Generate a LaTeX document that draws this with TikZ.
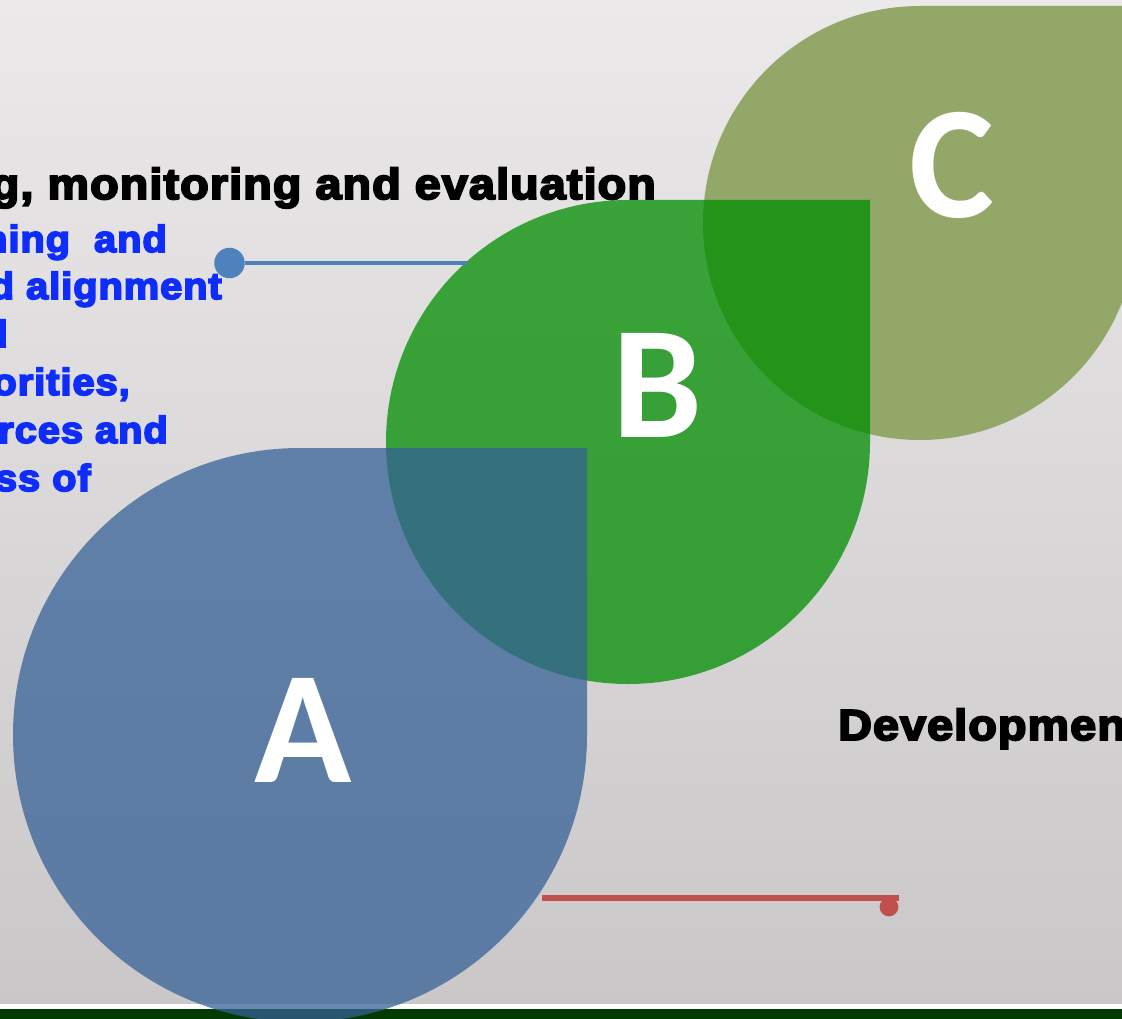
\documentclass[tikz,border=0pt]{standalone}
\usepackage{fontspec}
\setmainfont{Liberation Sans}
\newfontfamily\heavyfont{Liberation Sans Bold}[FakeBold=4.5,LetterSpace=2.5]
\newfontfamily\letterfont{Carlito}
\definecolor{tearA}{RGB}{53,97,151}
\definecolor{tearB}{RGB}{0,141,0}
\definecolor{tearC}{RGB}{147,168,104}
\definecolor{bgtop}{RGB}{235,233,234}
\definecolor{bgbot}{RGB}{201,199,200}
\definecolor{barG}{RGB}{4,58,4}
\definecolor{lineBlue}{RGB}{79,129,189}
\definecolor{lineRed}{RGB}{192,80,77}
\definecolor{textBlue}{RGB}{15,45,250}
\tikzset{
  heavy/.style={font=\heavyfont\fontsize{37}{40}\selectfont, xscale=1.075, inner sep=0pt},
  bluetext/.style={heavy, xscale=1.06/1.075, font=\heavyfont\fontsize{32}{36}\selectfont, text=textBlue},
  letter/.style={text=white, font=\letterfont\bfseries\fontsize{137}{137}\selectfont, inner sep=0pt, anchor=base},
  dot/.style={circle, inner sep=0pt},
}
\begin{document}
\begin{tikzpicture}[x=0.03cm,y=-0.03cm]
    \useasboundingbox (0,0) rectangle (1122,1019);
    \clip (0,0) rectangle (1122,1019);
    % background and bottom bar
    \shade[top color=bgtop,bottom color=bgbot] (0,0) rectangle (1122,1004);
    \fill[white] (0,1004) rectangle (1122,1009);
    \fill[barG] (0,1009) rectangle (1122,1019);
    % the three drops
    \fill[tearC] (1137,223) -- (1137,6) -- (920,6) arc[start angle=270,end angle=0,radius=217] -- cycle;
    \fill[tearB,opacity=.75] (870,442) -- (870,200) -- (628,200) arc[start angle=270,end angle=0,radius=242] -- cycle;
    \fill[tearA,opacity=.74] (587,735) -- (587,448) -- (300,448) arc[start angle=270,end angle=0,radius=287] -- cycle;
    \node[letter] (la) at (303,782) {A};
    \node[letter] (lb) at (657,437) {B};
    \node[letter] (lc) at (952,218) {C};
    % texts
    \node[heavy,anchor=base east] (title) at (656,199) {g, monitoring and evaluation};
    \foreach \txt/\xx/\yy in {{ning\ \ and}/167/252,{d alignment}/222/299,d/8/347,{orities,}/130/395,{rces and}/168/443,{ss of}/91/491}
    \node[bluetext,anchor=base east] (plan\yy) at (\xx,\yy) {\txt};
    \node[heavy,anchor=base west] (dev) at (838,740) {Development};
    % connectors
    \node[dot,fill=lineBlue,minimum size=26pt] (bdot) at (229.5,263) {};
    \coordinate (bedge) at (467,263);
    \draw[lineBlue,line width=3pt] (bdot) -- (bedge);
    \coordinate (rstart) at (542,898);
    \coordinate (rend) at (899,898);
    \draw[lineRed,line width=4.3pt] (rstart) -- (rend);
    \node[dot,fill=lineRed,minimum size=16pt] (rdot) at (889,907) {};
  \end{tikzpicture}
\end{document}
